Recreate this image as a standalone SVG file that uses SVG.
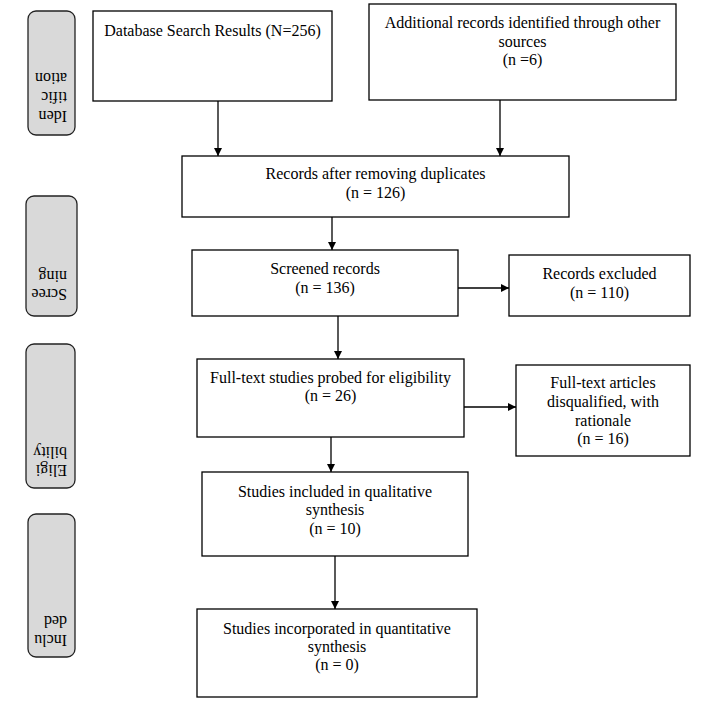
<svg xmlns="http://www.w3.org/2000/svg" width="722" height="707" viewBox="0 0 722 707">
<defs>
<style>
.box{fill:#fff;stroke:#000;stroke-width:1.3}
.side{fill:#d9d9d9;stroke:#222;stroke-width:1.3}
text{font-family:"Liberation Serif","Times New Roman",serif;font-size:16px;fill:#000}
.c{text-anchor:middle}
.con{stroke:#000;stroke-width:1.3;fill:none;marker-end:url(#ah)}
</style>
<marker id="ah" viewBox="0 0 10 10" refX="10" refY="5" markerWidth="8" markerHeight="8" markerUnits="userSpaceOnUse" orient="auto">
<path d="M0,0 L10,5 L0,10 Z" fill="#000"/>
</marker>
</defs>
<rect width="722" height="707" fill="#fff"/>

<g id="side-identification">
<rect class="side" x="28" y="11" width="47" height="124" rx="8"/>
<text transform="translate(67,111) rotate(180)">Iden</text>
<text transform="translate(67,92) rotate(180)">tific</text>
<text transform="translate(67,73) rotate(180)">ation</text>
</g>
<g id="side-screening">
<rect class="side" x="26" y="196" width="51" height="120" rx="8"/>
<text transform="translate(67,289) rotate(180)">Scree</text>
<text transform="translate(67,271) rotate(180)">ning</text>
</g>
<g id="side-eligibility">
<rect class="side" x="26" y="344" width="49" height="144" rx="8"/>
<text transform="translate(67,465) rotate(180)">Eligi</text>
<text transform="translate(67,447) rotate(180)">bility</text>
</g>
<g id="side-included">
<rect class="side" x="28" y="514" width="47" height="143" rx="8"/>
<text transform="translate(67,635) rotate(180)">Inclu</text>
<text transform="translate(67,616) rotate(180)">ded</text>
</g>

<g id="connectors">
<line class="con" x1="218" y1="101" x2="218" y2="156"/>
<line class="con" x1="500" y1="100" x2="500" y2="156"/>
<line class="con" x1="332" y1="217" x2="332" y2="250"/>
<line class="con" x1="458" y1="288" x2="509" y2="288"/>
<line class="con" x1="338" y1="316" x2="338" y2="359"/>
<line class="con" x1="464" y1="407" x2="516" y2="407"/>
<line class="con" x1="331" y1="437" x2="331" y2="472"/>
<line class="con" x1="335" y1="556" x2="335" y2="609"/>
</g>

<g id="database">
<rect class="box" x="93" y="11" width="239" height="90"/>
<text class="c" x="212.5" y="36">Database Search Results (N=256)</text>
</g>
<g id="additional">
<rect class="box" x="369" y="4" width="307" height="96"/>
<text class="c" x="522.5" y="28">Additional records identified through other</text>
<text class="c" x="522.5" y="47">sources</text>
<text class="c" x="522.5" y="65">(n =6)</text>
</g>
<g id="duplicates">
<rect class="box" x="182" y="156" width="387" height="61"/>
<text class="c" x="375.5" y="179">Records after removing duplicates</text>
<text class="c" x="375.5" y="198">(n = 126)</text>
</g>
<g id="screened">
<rect class="box" x="192" y="250" width="266" height="66"/>
<text class="c" x="325" y="274">Screened records</text>
<text class="c" x="325" y="293">(n = 136)</text>
</g>
<g id="excluded">
<rect class="box" x="509" y="255" width="181" height="61"/>
<text class="c" x="599.5" y="279">Records excluded</text>
<text class="c" x="599.5" y="298">(n = 110)</text>
</g>
<g id="fulltext">
<rect class="box" x="197" y="359" width="267" height="78"/>
<text class="c" x="330.5" y="383">Full-text studies probed for eligibility</text>
<text class="c" x="330.5" y="401">(n = 26)</text>
</g>
<g id="disqualified">
<rect class="box" x="516" y="365" width="174" height="91"/>
<text class="c" x="603" y="388">Full-text articles</text>
<text class="c" x="603" y="407">disqualified, with</text>
<text class="c" x="603" y="426">rationale</text>
<text class="c" x="603" y="444">(n = 16)</text>
</g>
<g id="qualitative">
<rect class="box" x="202" y="472" width="266" height="84"/>
<text class="c" x="335" y="497">Studies included in qualitative</text>
<text class="c" x="335" y="515">synthesis</text>
<text class="c" x="335" y="534">(n = 10)</text>
</g>
<g id="quantitative">
<rect class="box" x="197" y="609" width="280" height="88"/>
<text class="c" x="337" y="634">Studies incorporated in quantitative</text>
<text class="c" x="337" y="652">synthesis</text>
<text class="c" x="337" y="670">(n = 0)</text>
</g>
</svg>
